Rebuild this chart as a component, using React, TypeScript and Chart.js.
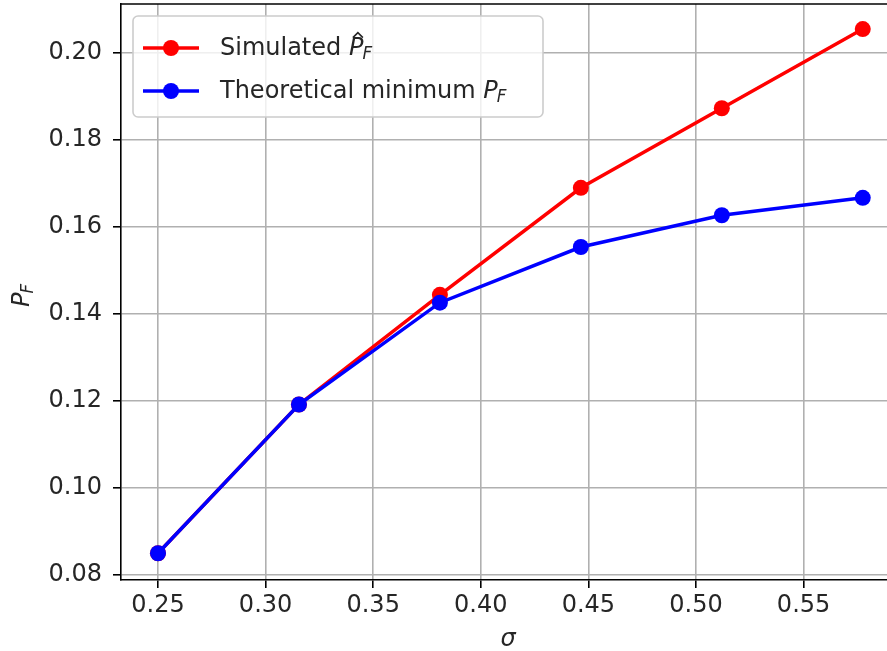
import React, { useEffect, useRef } from "react";
import { Chart, registerables } from "chart.js";

Chart.register(...registerables);

// ---- data ----
const sigma = [0.25, 0.3155, 0.381, 0.4465, 0.512, 0.5775];
const simulatedPF = [0.085, 0.1192, 0.1444, 0.169, 0.1873, 0.2055];
const theoreticalPF = [0.085, 0.1192, 0.1426, 0.1554, 0.1627, 0.1667];
const seriesNames = ["Simulated", "Theoretical minimum"];
const seriesColors = ["#ff0000", "#0000ff"];
const xTitle = "σ";
const yTitleBase = "P";
const yTitleSub = "F";

const FAMILY = '"DejaVu Sans", "Liberation Sans", sans-serif';
const TEXT = "#262626";
const FS = 24;

function drawMathP(c: CanvasRenderingContext2D, x: number, y: number, size: number, hat: boolean) {
  // italic P with subscript F; returns total width
  c.font = `italic ${size}px ${FAMILY}`;
  const pw = c.measureText(yTitleBase).width;
  c.fillText(yTitleBase, x, y);
  if (hat) {
    const cx = x + pw * 0.62;
    const top = y - size * 0.93;
    c.save();
    c.lineWidth = 1.6;
    c.strokeStyle = c.fillStyle as string;
    c.beginPath();
    c.moveTo(cx - 5, top + 5);
    c.lineTo(cx, top);
    c.lineTo(cx + 5, top + 5);
    c.stroke();
    c.restore();
  }
  const ss = size * 0.7;
  c.font = `italic ${ss}px ${FAMILY}`;
  c.fillText(yTitleSub, x + pw - 1, y + size * 0.17);
  const fw = c.measureText(yTitleSub).width;
  return pw - 1 + fw;
}

export default function App() {
  const ref = useRef<HTMLCanvasElement>(null);

  useEffect(() => {
    document.body.style.margin = "0";
    const canvas = ref.current!;

    const decor = {
      id: "decor",
      afterDraw(chart: any) {
        const c: CanvasRenderingContext2D = chart.ctx;
        const a = chart.chartArea;
        c.save();
        // top spine
        c.strokeStyle = "#000";
        c.lineWidth = 1.6;
        c.beginPath();
        c.moveTo(a.left, a.top);
        c.lineTo(a.right, a.top);
        c.stroke();

        // legend box
        const bx = 133, by = 16, bw = 410, bh = 101;
        c.beginPath();
        (c as any).roundRect(bx, by, bw, bh, 5);
        c.fillStyle = "rgba(255,255,255,0.8)";
        c.fill();
        c.strokeStyle = "#cccccc";
        c.lineWidth = 1.6;
        c.stroke();

        const rows = [48, 91];
        rows.forEach((ry, i) => {
          c.strokeStyle = seriesColors[i];
          c.fillStyle = seriesColors[i];
          c.lineWidth = 3.5;
          c.beginPath();
          c.moveTo(143, ry);
          c.lineTo(199, ry);
          c.stroke();
          c.beginPath();
          c.arc(171, ry, 8, 0, Math.PI * 2);
          c.fill();

          c.fillStyle = TEXT;
          c.textAlign = "left";
          c.textBaseline = "alphabetic";
          c.font = `${FS}px ${FAMILY}`;
          const label = seriesNames[i] + " ";
          const base = ry + 7;
          c.fillText(label, 220, base);
          const w = c.measureText(label).width;
          drawMathP(c, 220 + w, base, FS, i === 0);
        });

        // x title
        c.fillStyle = TEXT;
        c.font = `italic ${FS}px ${FAMILY}`;
        c.textAlign = "center";
        c.textBaseline = "alphabetic";
        c.fillText(xTitle, 508, 646);

        // y title (rotated)
        c.save();
        c.translate(29, 307);
        c.rotate(-Math.PI / 2);
        c.textAlign = "left";
        drawMathP(c, 0, 0, FS, false);
        c.restore();

        c.restore();
      },
    };

    const zeroPad = (s: any) => {
      s.paddingLeft = 0;
      s.paddingRight = 0;
      s.paddingTop = 0;
      s.paddingBottom = 0;
    };

    const chart = new Chart(canvas, {
      type: "line",
      data: {
        datasets: [
          {
            label: seriesNames[0],
            data: sigma.map((x, i) => ({ x, y: simulatedPF[i] })),
            borderColor: seriesColors[0],
            backgroundColor: seriesColors[0],
            borderWidth: 3.5,
            pointRadius: 8,
            pointBorderWidth: 0,
            pointBackgroundColor: seriesColors[0],
            tension: 0,
            order: 1,
            clip: 10,
          },
          {
            label: seriesNames[1],
            data: sigma.map((x, i) => ({ x, y: theoreticalPF[i] })),
            borderColor: seriesColors[1],
            backgroundColor: seriesColors[1],
            borderWidth: 3.5,
            pointRadius: 8,
            pointBorderWidth: 0,
            pointBackgroundColor: seriesColors[1],
            tension: 0,
            order: 0,
            clip: 10,
          },
        ],
      },
      options: {
        animation: false,
        responsive: false,
        devicePixelRatio: 1,
        layout: { autoPadding: false, padding: { top: 4, right: 0, left: 0, bottom: 0 } },
        plugins: { legend: { display: false }, tooltip: { enabled: false } },
        scales: {
          x: {
            type: "linear",
            min: 0.23281,
            max: 0.58876,
            ticks: {
              stepSize: 0.05,
              includeBounds: false,
              padding: 3,
              color: TEXT,
              font: { size: FS, family: FAMILY },
              maxRotation: 0,
              autoSkip: false,
              callback: (v: any) => Number(v).toFixed(2),
            },
            grid: { color: "#b0b0b0", lineWidth: 1.6, tickColor: "#000", tickWidth: 1.6, tickLength: 8 },
            border: { color: "#000", width: 1.6 },
            afterFit: (s: any) => {
              s.height = 71;
              zeroPad(s);
            },
          },
          y: {
            type: "linear",
            min: 0.07885,
            max: 0.21126,
            ticks: {
              stepSize: 0.02,
              includeBounds: false,
              padding: 11,
              color: TEXT,
              font: { size: FS, family: FAMILY },
              autoSkip: false,
              callback: (v: any) => Number(v).toFixed(2),
            },
            grid: { color: "#b0b0b0", lineWidth: 1.6, tickColor: "#000", tickWidth: 1.6, tickLength: 8 },
            border: { color: "#000", width: 1.6 },
            afterFit: (s: any) => {
              s.width = 121;
              zeroPad(s);
            },
          },
        },
      },
      plugins: [decor],
    } as any);

    return () => chart.destroy();
  }, []);

  return <canvas ref={ref} width={887} height={651} style={{ display: "block" }} />;
}
